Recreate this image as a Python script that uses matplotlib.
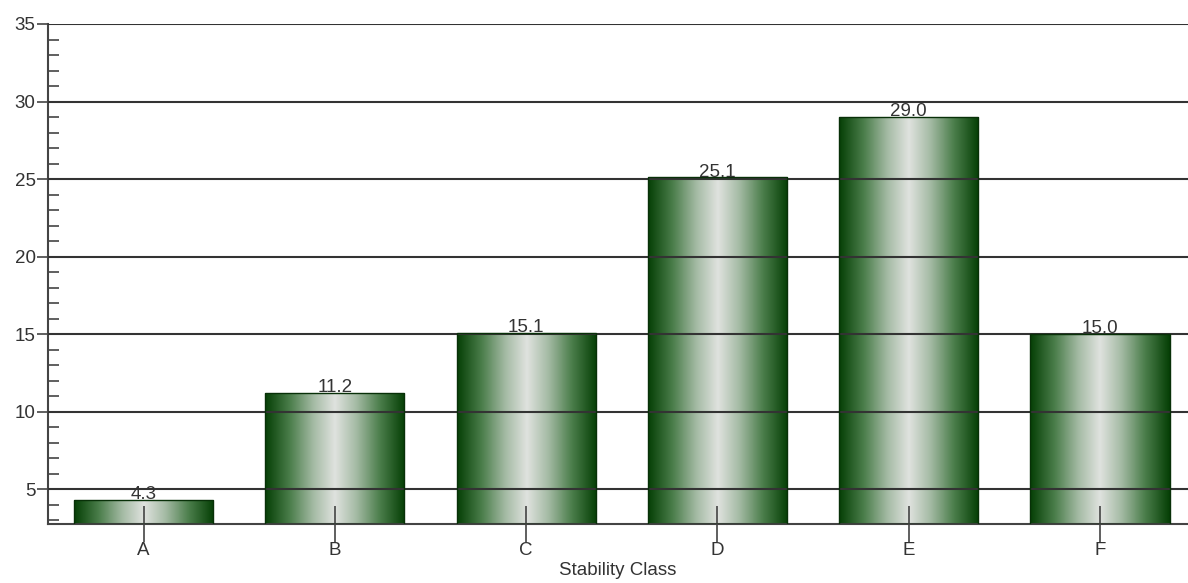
import numpy as np
import matplotlib
matplotlib.use('Agg')
import matplotlib.pyplot as plt
from matplotlib.colors import LinearSegmentedColormap
from matplotlib.ticker import MultipleLocator

# 데이터
classes = ['A', 'B', 'C', 'D', 'E', 'F']
values = [4.3, 11.2, 15.1, 25.1, 29.0, 15.0]
labels = ['4.3', '11.2', '15.1', '25.1', '29.0', '15.0']

plt.rcParams['font.family'] = ['Liberation Sans Narrow', 'Liberation Sans', 'DejaVu Sans']

fig = plt.figure(figsize=(11.88, 5.83), dpi=100)
ax = fig.add_axes([48 / 1188, 59 / 583, 1 - 48 / 1188, 500 / 583])

ymin = 2.75
x = np.arange(len(classes))
bars = ax.bar(x, np.array(values) - ymin, bottom=ymin, width=0.727,
              color='none', edgecolor='#083008', linewidth=1, zorder=3)

# 그라데이션 (가장자리 진한 녹색 -> 가운데 밝은 회색)
cmap = LinearSegmentedColormap.from_list(
    'g', [(0.0, '#053f05'), (0.35, '#4a7d4a'), (0.7, '#a5bba5'), (1.0, '#dfe2de')])
grad = 1 - np.abs(np.linspace(-1, 1, 256))
grad = grad.reshape(1, -1)
for b in bars:
    x0, y0 = b.get_x(), b.get_y()
    w, h = b.get_width(), b.get_height()
    im = ax.imshow(grad, cmap=cmap, aspect='auto', extent=(x0, x0 + w, y0, y0 + h),
                   interpolation='bicubic', zorder=2)
    im.set_clip_path(b)

for xi, v, t in zip(x, values, labels):
    ax.text(xi, v - 0.2, t, ha='center', va='bottom', fontsize=13.5, color='#333333', zorder=4)

ax.set_xlim(-0.5, 5.46)
ax.set_ylim(ymin, 35)
ax.yaxis.set_minor_locator(MultipleLocator(1))
ax.set_yticks([5, 10, 15, 20, 25, 30, 35])
ax.tick_params(axis='y', which='major', direction='out', length=8, width=1.2,
               color='#444444', labelsize=13.5, labelcolor='#333333', pad=1)
ax.tick_params(axis='y', which='minor', direction='in', length=8, width=1.2, color='#444444')
ax.set_xticks(x)
ax.set_xticklabels(classes)
ax.tick_params(axis='x', direction='inout', length=26, width=1.2, color='#444444',
               labelsize=13.5, labelcolor='#333333', pad=0)
for tk in ax.xaxis.get_major_ticks():
    tk.tick1line.set_zorder(5)

ax.grid(axis='y', which='major', color='#333333', linewidth=1.5, zorder=1)
ax.set_axisbelow(False)
for gl in ax.get_ygridlines():
    gl.set_zorder(1)
ax.spines['top'].set_visible(False)
ax.spines['right'].set_visible(False)
ax.spines['left'].set_color('#444444')
ax.spines['left'].set_linewidth(1.5)
ax.spines['bottom'].set_color('#444444')
ax.spines['bottom'].set_linewidth(1.5)

ax.set_xlabel('Stability Class', fontsize=13.5, color='#333333', labelpad=2)

fig.savefig('out.png', dpi=100)
